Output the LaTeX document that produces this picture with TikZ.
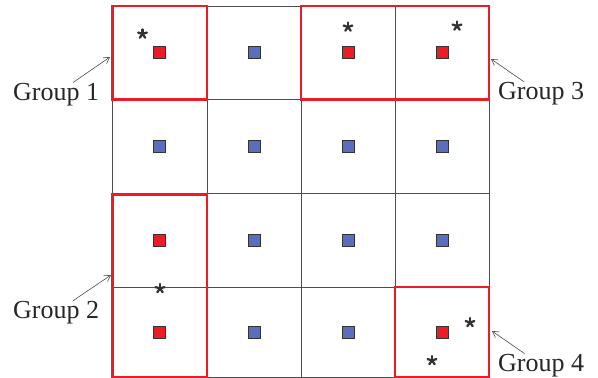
\documentclass[tikz,border=0pt]{standalone}
\usepackage{fontspec}
\setmainfont{Liberation Serif}
\usetikzlibrary{arrows.meta,calc}
\definecolor{gred}{HTML}{ED1C24}
\definecolor{gblue}{HTML}{5B6DBF}
\definecolor{gline}{HTML}{4D4D4D}
\definecolor{gstar}{HTML}{333333}
\begin{document}
\begin{tikzpicture}[x=1pt,y=-1pt,
  gridline/.style={draw=gline,line width=0.8pt},
  sq/.style={rectangle,draw=gstar,line width=0.8pt,minimum size=12pt,inner sep=0pt},
  redsq/.style={sq,fill=gred},
  bluesq/.style={sq,fill=gblue},
  grp/.style={rectangle,draw=gred,line width=2.5pt,inner sep=0pt},
  lbl/.style={inner sep=0pt,font=\fontsize{26}{30}\selectfont,text=black!85},
  ptr/.style={draw=gline,line width=0.6pt,-{Straight Barb[length=6pt,width=7pt]}},
  astk/.pic={\foreach \a in {-90,-18,54,126,198}
     \draw[gstar,line width=2.3pt,line cap=round] (0,0) -- (\a:4.6);}
]
\useasboundingbox (0,0) rectangle (598,378);
% grid
\draw[gridline] (112.5,6) rectangle (489,377);
\foreach \x in {207,301,395} \draw[gridline] (\x,6) -- (\x,377);
\foreach \y in {99.5,193.5,287} \draw[gridline] (112.5,\y) -- (489,\y);
% squares
\node[redsq]  (s11) at (159.75,52.75) {};
\node[bluesq] (s12) at (254,52.75) {};
\node[redsq]  (s13) at (348,52.75) {};
\node[redsq]  (s14) at (442,52.75) {};
\node[bluesq] (s21) at (159.75,146.5) {};
\node[bluesq] (s22) at (254,146.5) {};
\node[bluesq] (s23) at (348,146.5) {};
\node[bluesq] (s24) at (442,146.5) {};
\node[redsq]  (s31) at (159.75,240.25) {};
\node[bluesq] (s32) at (254,240.25) {};
\node[bluesq] (s33) at (348,240.25) {};
\node[bluesq] (s34) at (442,240.25) {};
\node[redsq]  (s41) at (159.75,332) {};
\node[bluesq] (s42) at (254,332) {};
\node[bluesq] (s43) at (348,332) {};
\node[redsq]  (s44) at (442,332) {};
% group boxes
\node[grp,minimum width=94.5pt,minimum height=93.5pt] (G1) at (159.75,52.75) {};
\node[grp,minimum width=188pt,minimum height=93.5pt] (G3) at (395,52.75) {};
\node[grp,minimum width=94.5pt,minimum height=182.5pt] (G2) at (159.75,285.75) {};
\node[grp,minimum width=94pt,minimum height=90pt] (G4) at (442,332) {};
% stars
\pic at (142.5,34) {astk};
\pic at (348,27) {astk};
\pic at (457,26) {astk};
\pic at (160,288.5) {astk};
\pic at (470,322.5) {astk};
\pic at (432,360.5) {astk};
% labels
\node[lbl,anchor=base west] (g1) at (13,100) {Group 1};
\node[lbl,anchor=base west] (g2) at (13,318) {Group 2};
\node[lbl,anchor=base west] (g3) at (498,99.5) {Group 3};
\node[lbl,anchor=base west] (g4) at (498,371) {Group 4};
\coordinate (a1) at (110,57);
\coordinate (a2) at (111,275);
\coordinate (a3) at (491,59);
\coordinate (a4) at (492,331);
\draw[ptr] (g1) -- (a1);
\draw[ptr] (g2) -- (a2);
\draw[ptr] (g3) -- (a3);
\draw[ptr] (g4) -- (a4);
\end{tikzpicture}
\end{document}
